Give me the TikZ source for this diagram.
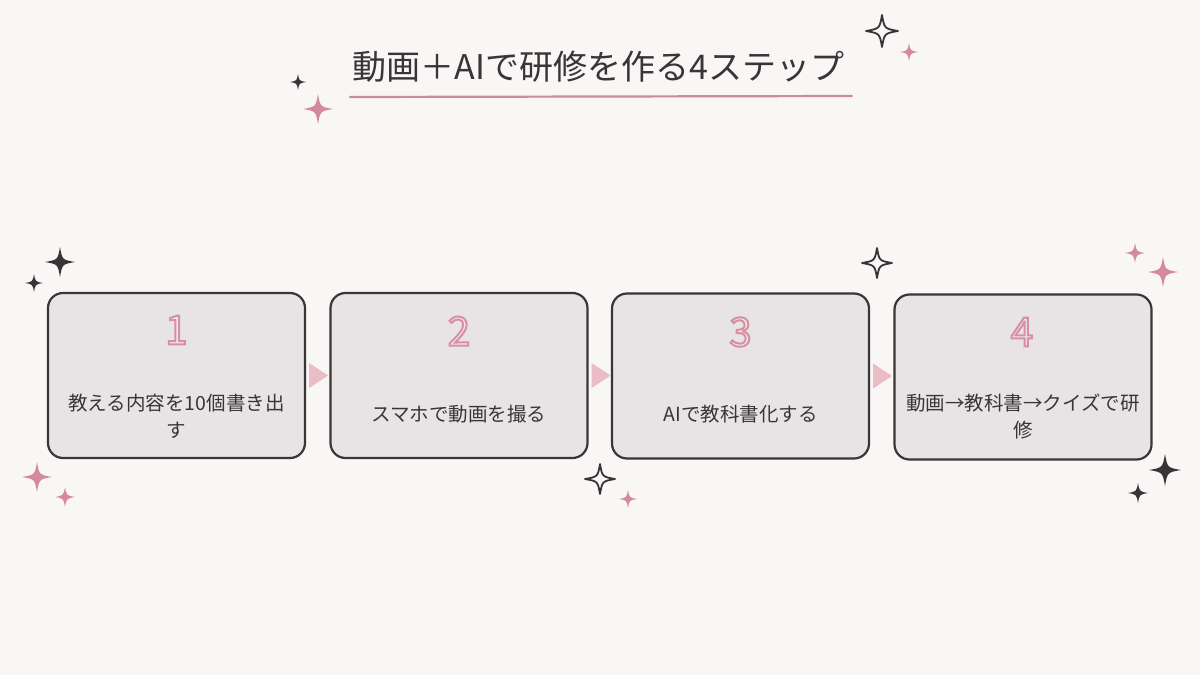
\documentclass[tikz,border=0pt]{standalone}
\usepackage{fontspec}
\setmainfont{Noto Sans CJK JP}
\newfontfamily\numfont[FakeBold=5]{Noto Sans CJK JP}
\definecolor{bgc}{HTML}{F8F7F5}
\definecolor{boxfill}{HTML}{E8E3E5}
\definecolor{boxline}{HTML}{3B3537}
\definecolor{txt}{HTML}{3A3436}
\definecolor{pinkS}{HTML}{D4899C}
\definecolor{uline}{HTML}{C98C9C}
\definecolor{arrowc}{HTML}{E9BCC6}
\definecolor{numline}{HTML}{D99AAB}
\definecolor{numfill}{HTML}{F3E8EC}
\definecolor{darkS}{HTML}{3A3335}
\tikzset{
  pics/spark/.style={code={\path[pic actions] (0,-1) .. controls (0.15,-0.15) .. (1,0) .. controls (0.15,0.15) .. (0,1) .. controls (-0.15,0.15) .. (-1,0) .. controls (-0.15,-0.15) .. cycle;}},
  stepbox/.style={draw=boxline, fill=boxfill, line width=2.2pt, rounded corners=15pt, minimum width=257pt, minimum height=165pt, inner sep=0pt},
  numtxt/.style={inner sep=0pt, font=\numfont\fontsize{40}{44}\selectfont},
  bodytxt/.style={inner sep=0pt, text=txt, align=center, font=\fontsize{19.5}{27}\selectfont},
  tri/.style={fill=arrowc},
  pinkspark/.style={fill=pinkS},
  darkspark/.style={fill=darkS},
  outspark/.style={draw=darkS, fill=bgc, line width=1.8pt, line join=round},
}
\newcommand{\stepnum}[1]{\color{numfill}\special{pdf:code 0.84 0.56 0.64 RG}#1}
\begin{document}
\begin{tikzpicture}[x=1pt,y=-1pt]
\fill[bgc] (0,0) rectangle (1200,675);
\useasboundingbox (0,0) rectangle (1200,675);

% title
\node[inner sep=0pt, text=txt, font=\fontsize{34}{40}\selectfont] (title) at (598.5,67) {動画＋AIで研修を作る4ステップ};
\coordinate (ulA) at (350,97);
\coordinate (ulB) at (852,96);
\draw[uline, line width=2.2pt, line cap=round] (ulA) -- (ulB);

% boxes
\node[stepbox] (b1) at (176.5,375.5) {};
\node[stepbox] (b2) at (459,375.5) {};
\node[stepbox] (b3) at (740.5,376) {};
\node[stepbox] (b4) at (1023,377) {};

% numbers
\node[numtxt] (n1) at (176.5,330) {\stepnum{1}};
\node[numtxt] (n2) at (459,331) {\stepnum{2}};
\node[numtxt] (n3) at (740.5,332) {\stepnum{3}};
\node[numtxt] (n4) at (1022,332) {\stepnum{4}};

% texts
\node[bodytxt] (t1) at (176.5,416) {教える内容を10個書き出\\す};
\node[bodytxt] (t2) at (459,414) {スマホで動画を撮る};
\node[bodytxt] (t3) at (740.5,414) {AIで教科書化する};
\node[bodytxt] (t4) at (1023,416) {動画→教科書→クイズで研\\修};

% arrows between boxes
\fill[tri] ([xshift=3pt]b1.east) ++(0,-12.5) -- ++(19,12.5) -- ++(-19,12.5) -- cycle;
\fill[tri] ([xshift=3pt]b2.east) ++(0,-12.5) -- ++(19,12.5) -- ++(-19,12.5) -- cycle;
\fill[tri] ([xshift=3pt]b3.east) ++(0,-12.5) -- ++(19,12.5) -- ++(-19,12.5) -- cycle;

% sparkles: title
\pic[darkspark, scale=8] at (298,82) {spark};
\pic[pinkspark, scale=15] at (318,109) {spark};
\pic[outspark, scale=16] at (882,31) {spark};
\pic[pinkspark, scale=9] at (909,52) {spark};
% box 1
\pic[darkspark, scale=15] at (60,262) {spark};
\pic[darkspark, scale=9] at (34,283) {spark};
\pic[pinkspark, scale=15] at (37,477) {spark};
\pic[pinkspark, scale=10] at (65,497) {spark};
% box 3
\pic[outspark, scale=15] at (600,479) {spark};
\pic[pinkspark, scale=9] at (628,499) {spark};
\pic[outspark, scale=15] at (877,263) {spark};
% box 4
\pic[pinkspark, scale=10] at (1135,253) {spark};
\pic[pinkspark, scale=15] at (1163,272) {spark};
\pic[darkspark, scale=16] at (1165,470) {spark};
\pic[darkspark, scale=10] at (1138,493) {spark};
\end{tikzpicture}
\end{document}
